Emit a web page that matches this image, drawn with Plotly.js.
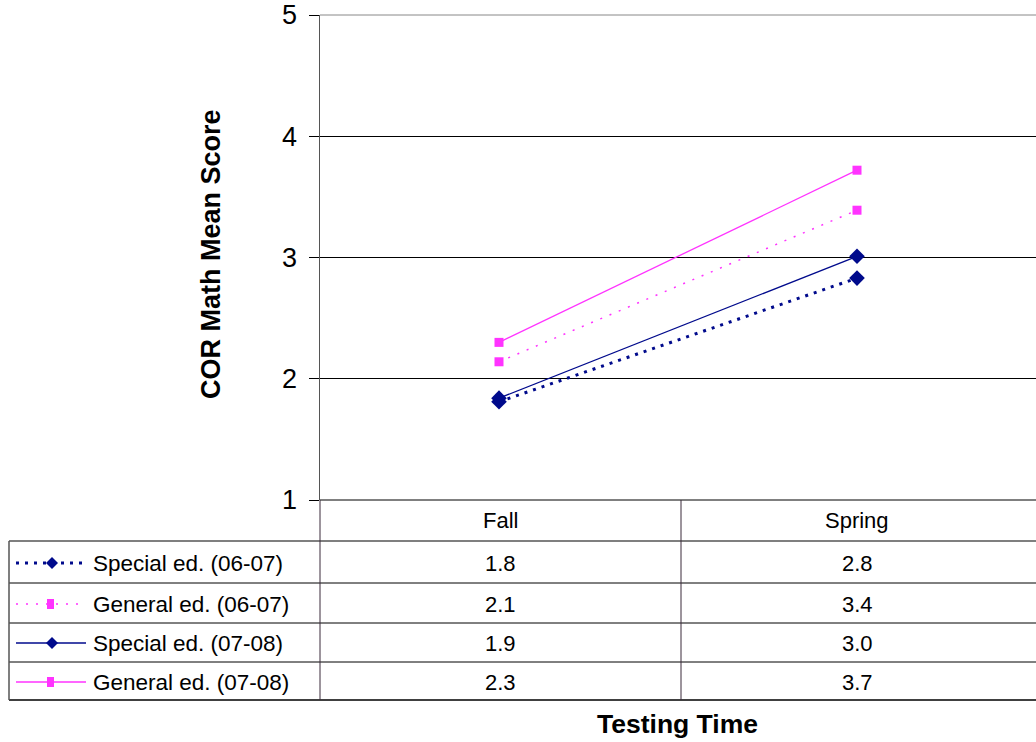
<!DOCTYPE html>
<html>
<head>
<meta charset="utf-8">
<script src="https://cdn.plot.ly/plotly-3.0.1.min.js"></script>
<style>html,body{margin:0;padding:0;background:#fff;}#chart{width:1036px;height:742px;}</style>
</head>
<body>
<div id="chart"></div>
<script>
// ---- data ----
const categories = ["Fall", "Spring"];
const seriesNames = ["Special ed. (06-07)", "General ed. (06-07)", "Special ed. (07-08)", "General ed. (07-08)"];
const special0607 = [1.81, 2.83];
const general0607 = [2.14, 3.39];
const special0708 = [1.84, 3.01];
const general0708 = [2.30, 3.72];
const tableSpecial0607 = ["1.8", "2.8"];
const tableGeneral0607 = ["2.1", "3.4"];
const tableSpecial0708 = ["1.9", "3.0"];
const tableGeneral0708 = ["2.3", "3.7"];
const yTickVals = [1, 2, 3, 4, 5];

// ---- styles ----
const NAVY = "#000a8c";
const MAG = "#ff33ff";
const FONT = "Liberation Sans, Arial, sans-serif";
const styles = [
  {color: NAVY, dash: "3px,6px", width: 3, symbol: "diamond", msize: 12},
  {color: MAG, dash: "2px,8px", width: 1.5, symbol: "square", msize: 9},
  {color: NAVY, dash: "solid", width: 1.3, symbol: "diamond", msize: 12},
  {color: MAG, dash: "solid", width: 1.3, symbol: "square", msize: 9}
];
const seriesValues = [special0607, general0607, special0708, general0708];
const tableTexts = [tableSpecial0607, tableGeneral0607, tableSpecial0708, tableGeneral0708];

const traces = seriesValues.map((vals, i) => ({
  type: "scatter", mode: "lines+markers", name: seriesNames[i],
  x: categories, y: vals,
  line: {color: styles[i].color, dash: styles[i].dash, width: styles[i].width},
  marker: {color: styles[i].color, symbol: styles[i].symbol, size: styles[i].msize},
  showlegend: false, hoverinfo: "skip"
}));

// ---- geometry (pixels -> paper) ----
const W = 1036, H = 742;
const L = 320, R = 0, T = 15, B = 242;
const pw = W - L - R, ph = H - T - B;
const px = v => (v - L) / pw;
const py = v => (H - B - v) / ph;

const shapes = [];
const annotations = [];
function hline(x0, x1, y, color, width) {
  shapes.push({type: "line", xref: "paper", yref: "paper", x0: px(x0), x1: px(x1), y0: py(y), y1: py(y),
    line: {color: color || "#000", width: width || 1}});
}
function vline(x, y0, y1, color, width) {
  shapes.push({type: "line", xref: "paper", yref: "paper", x0: px(x), x1: px(x), y0: py(y0), y1: py(y1),
    line: {color: color || "#000", width: width || 1}});
}
function text(x, y, t, anchor, size, bold) {
  annotations.push({xref: "paper", yref: "paper", x: px(x), y: py(y), text: bold ? "<b>" + t + "</b>" : t,
    showarrow: false, xanchor: anchor || "center", yanchor: "middle",
    font: {family: FONT, size: size || 18, color: "#000"}});
}

// table lines
const tableLeft = 9;
hline(320, W, 500, "#000", 1);
hline(tableLeft, W, 541, "#555", 1.5);
hline(tableLeft, W, 583, "#000", 1);
hline(tableLeft, W, 623, "#000", 1);
hline(tableLeft, W, 662, "#000", 1);
hline(tableLeft, W, 700, "#000", 1.5);
vline(tableLeft, 541, 700, "#555", 1.5);
vline(320, 500, 700, "#3a2a3a", 1);
vline(681, 500, 700, "#3a2a3a", 1);

// header
const colCenters = [500, 857];
categories.forEach((c, j) => text(colCenters[j], 520, c, "center", 22));

// rows
const rowCenters = [563, 604, 643, 682];
seriesNames.forEach((name, i) => {
  const yc = rowCenters[i];
  const s = styles[i];
  shapes.push({type: "line", xref: "paper", yref: "paper", x0: px(16), x1: px(86), y0: py(yc), y1: py(yc),
    line: {color: s.color, width: s.width, dash: s.dash}});
  if (s.symbol === "diamond") {
    const cx = 52, r = 6;
    shapes.push({type: "path", xref: "paper", yref: "paper",
      path: `M ${px(cx)} ${py(yc - r)} L ${px(cx + r)} ${py(yc)} L ${px(cx)} ${py(yc + r)} L ${px(cx - r)} ${py(yc)} Z`,
      fillcolor: s.color, line: {color: s.color, width: 0}});
  } else {
    shapes.push({type: "rect", xref: "paper", yref: "paper", x0: px(47), x1: px(54), y0: py(yc - 5), y1: py(yc + 5),
      fillcolor: s.color, line: {width: 0}});
  }
  text(91, yc, name, "left", 22.5);
  tableTexts[i].forEach((t, j) => text(colCenters[j], yc, t, "center", 22));
});

// axis titles
annotations.push({xref: "paper", yref: "paper", x: px(211), y: py(254), text: "<b>COR Math Mean Score</b>",
  textangle: -90, showarrow: false, xanchor: "center", yanchor: "middle",
  font: {family: FONT, size: 27, color: "#000"}});
text(677, 724, "Testing Time", "center", 26.5, true);

// top border of plot
hline(320, W, 15, "#888", 1);

const layout = {
  width: W, height: H,
  margin: {l: L, r: R, t: T, b: B, pad: 0},
  paper_bgcolor: "#fff", plot_bgcolor: "#fff",
  showlegend: false,
  font: {family: FONT, color: "#000"},
  xaxis: {type: "category", range: [-0.5, 1.5], showticklabels: false, showgrid: false,
    zeroline: false, showline: false, ticks: "", fixedrange: true},
  yaxis: {range: [1, 5], tickvals: yTickVals, ticktext: yTickVals.map(String),
    showgrid: true, gridcolor: "#000", gridwidth: 1, zeroline: false,
    showline: true, linecolor: "#555", linewidth: 1.5,
    ticks: "outside", ticklen: 10, tickcolor: "#000", tickwidth: 1, ticklabelstandoff: 6,
    tickfont: {family: FONT, size: 27, color: "#000"}, fixedrange: true},
  shapes: shapes,
  annotations: annotations
};

Plotly.newPlot("chart", traces, layout, {displayModeBar: false, staticPlot: true});
</script>
</body>
</html>
